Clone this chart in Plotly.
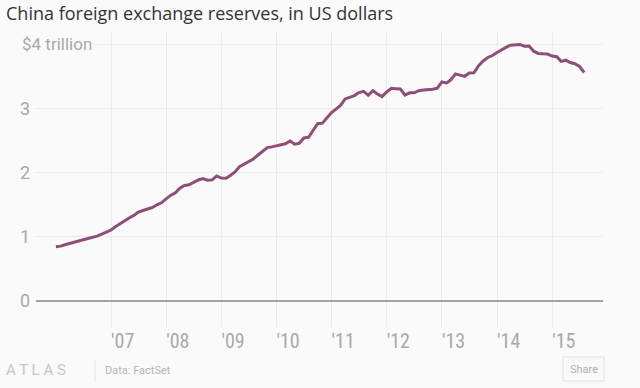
import plotly.graph_objects as go
import pandas as pd

# Monthly China FX reserves, US$ trillion, Jan 2006 - Aug 2015
start_month = "2006-01-01"
reserves = [
    0.845, 0.854, 0.875, 0.895, 0.925, 0.941, 0.954, 0.972, 0.988, 1.010, 1.040, 1.066,
    1.104, 1.158, 1.202, 1.246, 1.292, 1.332, 1.385, 1.409, 1.434, 1.455, 1.497, 1.528,
    1.590, 1.647, 1.682, 1.757, 1.797, 1.809, 1.845, 1.884, 1.906, 1.880, 1.885, 1.946,
    1.913, 1.912, 1.954, 2.009, 2.089, 2.132, 2.175, 2.211, 2.273, 2.328, 2.388, 2.399,
    2.415, 2.425, 2.447, 2.491, 2.440, 2.454, 2.538, 2.548, 2.648, 2.760, 2.768, 2.847,
    2.932, 2.991, 3.045, 3.145, 3.166, 3.197, 3.245, 3.263, 3.202, 3.274, 3.221, 3.181,
    3.254, 3.310, 3.305, 3.299, 3.206, 3.240, 3.240, 3.273, 3.285, 3.287, 3.297, 3.312,
    3.410, 3.395, 3.443, 3.535, 3.515, 3.497, 3.548, 3.553, 3.663, 3.736, 3.790, 3.821,
    3.867, 3.914, 3.948, 3.981, 3.984, 3.993, 3.966, 3.969, 3.888, 3.853, 3.847, 3.843,
    3.813, 3.802, 3.730, 3.748, 3.711, 3.694, 3.651, 3.557,
]
dates = pd.date_range(start_month, periods=len(reserves), freq="MS")

x_tick_dates = ["2007-01-01", "2008-01-01", "2009-01-01", "2010-01-01", "2011-01-01",
                "2012-01-01", "2013-01-01", "2014-01-01", "2015-01-01"]
x_tick_labels = ["'07", "'08", "'09", "'10", "'11", "'12", "'13", "'14", "'15"]
y_tick_vals = [0, 1, 2, 3, 4]
y_tick_labels = ["0", "1", "2", "3", ""]
top_label = "$4 trillion"

title = "China foreign exchange reserves, in US dollars"
source = "Data: FactSet"
brand = "A T L A S"

BG = "#fbfafb"
LINE = "#8d4f77"
GRID = "#ebeaec"
TXT = "#a9a9a9"

L, R, T, B = 36, 37, 32, 61
PW, PH = 640 - L - R, 388 - T - B


def px_x(px):
    return (px - L) / PW


def px_y(py):
    return (388 - B - py) / PH


fig = go.Figure()
fig.add_trace(go.Scatter(
    x=dates, y=reserves, mode="lines",
    line=dict(color=LINE, width=3), hoverinfo="skip", showlegend=False,
))

fig.update_layout(
    width=640, height=388,
    margin=dict(l=L, r=R, t=T, b=B),
    paper_bgcolor=BG, plot_bgcolor=BG,
    title=dict(text=title, x=6 / 640, xanchor="left", y=1 - 14 / 388, yanchor="middle",
               font=dict(family="Open Sans, sans-serif", size=18, color="#333333")),
    xaxis=dict(
        type="date", range=["2005-08-22", "2015-12-04"],
        tickvals=x_tick_dates, ticktext=x_tick_labels,
        ticklabelposition="outside right",
        showgrid=True, gridcolor=GRID, gridwidth=1,
        zeroline=False, showline=False, ticks="",
        tickfont=dict(family="Liberation Sans Narrow, Roboto Condensed, Roboto, sans-serif",
                      size=20, color=TXT),
        fixedrange=True,
    ),
    yaxis=dict(
        range=[-0.405, 4.187],
        tickvals=y_tick_vals, ticktext=y_tick_labels,
        showgrid=True, gridcolor=GRID, gridwidth=1,
        zeroline=True, zerolinecolor="#a3a3a3", zerolinewidth=2,
        showline=False, ticks="", ticklabelstandoff=5,
        tickfont=dict(family="Roboto, sans-serif", size=18, color=TXT),
        fixedrange=True,
    ),
)

# "$4 trillion" label sitting over the top gridline
fig.add_annotation(
    x=px_x(19), xref="paper", xanchor="left",
    y=y_tick_vals[-1], yref="y", yanchor="middle",
    text=top_label, showarrow=False, bgcolor=BG, borderpad=2,
    font=dict(family="Roboto, sans-serif", size=17, color=TXT),
)

# footer
fig.add_annotation(
    x=px_x(4), xref="paper", y=px_y(370), yref="paper",
    xanchor="left", yanchor="middle", text=brand, showarrow=False,
    font=dict(family="Roboto, sans-serif", size=15, color="#c6c6c6"),
)
fig.add_annotation(
    x=px_x(103), xref="paper", y=px_y(370), yref="paper",
    xanchor="left", yanchor="middle", text=source, showarrow=False,
    font=dict(family="Roboto, sans-serif", size=11, color="#b5b5b5"),
)
fig.add_shape(type="line", xref="paper", yref="paper",
              x0=px_x(95), x1=px_x(95), y0=px_y(360), y1=px_y(381),
              line=dict(color="#e4e4e4", width=1))
# Share button
fig.add_shape(type="rect", xref="paper", yref="paper",
              x0=px_x(563), x1=px_x(604), y0=px_y(357), y1=px_y(381),
              line=dict(color="#e2e2e2", width=1), fillcolor=BG)
fig.add_annotation(
    x=px_x(583.5), xref="paper", y=px_y(369), yref="paper",
    xanchor="center", yanchor="middle", text="Share", showarrow=False,
    font=dict(family="Roboto, sans-serif", size=11, color="#b0b0b0"),
)

fig.write_html("out.html", config={"displayModeBar": False},
               post_script="document.body.style.margin='0px';")
